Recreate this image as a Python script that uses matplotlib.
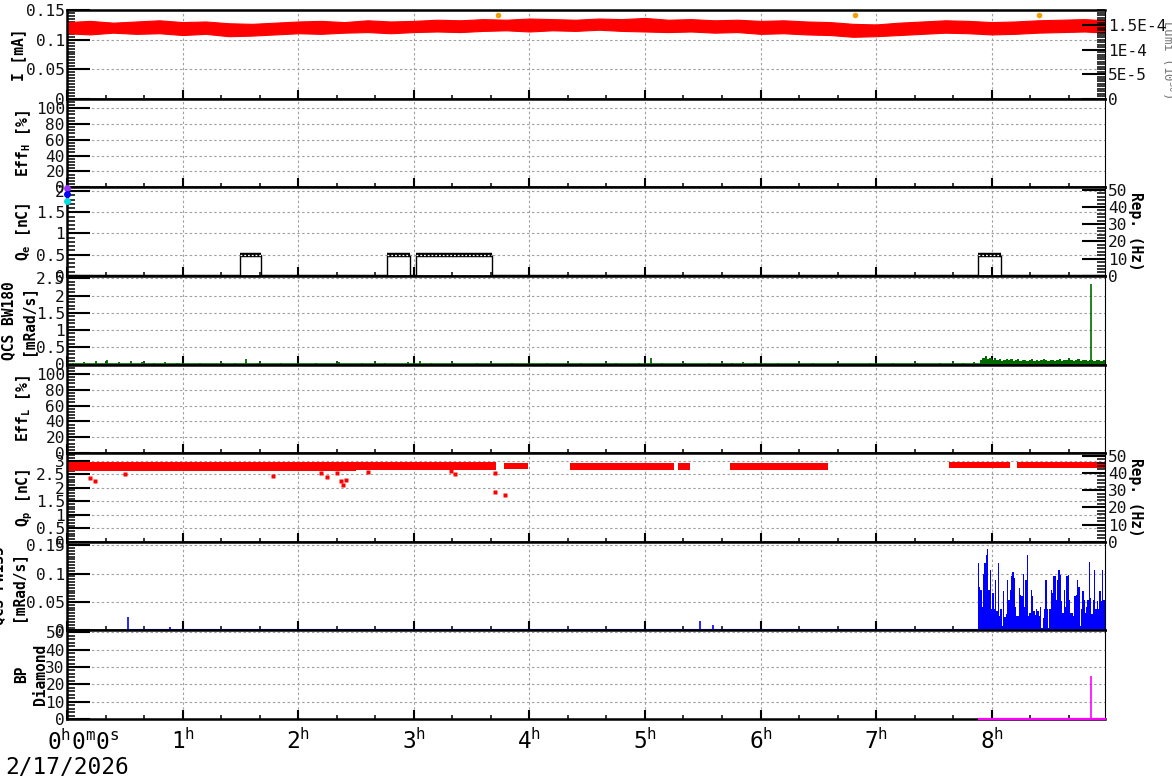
import numpy as np
import matplotlib.pyplot as plt
from matplotlib.ticker import MultipleLocator, AutoMinorLocator, FixedLocator, FormatStrFormatter

plt.rcParams['font.family'] = 'DejaVu Sans Mono'
plt.rcParams['mathtext.fontset'] = 'custom'
plt.rcParams['mathtext.rm'] = 'DejaVu Sans Mono'
plt.rcParams['mathtext.it'] = 'DejaVu Sans Mono'
plt.rcParams['mathtext.bf'] = 'DejaVu Sans Mono:bold'

# ---- data (time in hours since 0h0m0s) ----
xmax = 8.98
hours = [0, 1, 2, 3, 4, 5, 6, 7, 8]
date_label = "2/17/2026"

# beam current I [mA], envelope sampled every 0.2 h
i_t0, i_dt = 0.0, 0.2
i_upper = [0.130, 0.132, 0.129, 0.131, 0.133, 0.130, 0.131, 0.128, 0.127, 0.129,
           0.131, 0.132, 0.130, 0.133, 0.131, 0.132, 0.134, 0.133, 0.135, 0.134,
           0.136, 0.135, 0.134, 0.136, 0.135, 0.137, 0.134, 0.135, 0.133, 0.134,
           0.132, 0.133, 0.131, 0.130, 0.127, 0.126, 0.129, 0.131, 0.133, 0.132,
           0.130, 0.131, 0.133, 0.134, 0.135, 0.133]
i_lower = [0.111, 0.109, 0.112, 0.110, 0.111, 0.108, 0.110, 0.106, 0.107, 0.109,
           0.111, 0.110, 0.112, 0.113, 0.111, 0.113, 0.114, 0.113, 0.115, 0.116,
           0.114, 0.116, 0.115, 0.117, 0.115, 0.114, 0.113, 0.114, 0.112, 0.113,
           0.110, 0.111, 0.109, 0.108, 0.105, 0.106, 0.108, 0.110, 0.112, 0.111,
           0.109, 0.110, 0.112, 0.113, 0.114, 0.112]
lumi_t = [3.73, 6.82, 8.41]
lumi_v = [1.71e-4, 1.71e-4, 1.71e-4]

# Q_e [nC]
qe_box_start = [1.50, 2.77, 3.02, 7.88]
qe_box_end = [1.68, 2.97, 3.68, 8.08]
qe_level = 0.5
qe_marker_v = [2.07, 1.92, 1.76]
qe_marker_c = ['#9933ff', '#0000ff', '#00e0e0']

# QCS BW180 [mRad/s]
bw_t0, bw_dt = 0.0, 0.1
bw_early = [0.05, 0.08, 0.10, 0.12, 0.06, 0.09, 0.07, 0.04, 0.06, 0.03,
            0.02, 0.04, 0.02, 0.05, 0.03, 0.16, 0.04, 0.02, 0.04, 0.02,
            0.02, 0.05, 0.02, 0.06, 0.02, 0.04, 0.02, 0.05, 0.02, 0.06,
            0.10, 0.04, 0.02, 0.05, 0.02, 0.04, 0.02, 0.02, 0.05, 0.02,
            0.02, 0.04, 0.02, 0.02, 0.04, 0.02, 0.02, 0.05, 0.02, 0.04,
            0.18, 0.04, 0.02, 0.05, 0.02, 0.04, 0.02, 0.05, 0.07, 0.04,
            0.02, 0.04, 0.02, 0.02, 0.05, 0.02, 0.04, 0.02, 0.02, 0.04,
            0.02, 0.05, 0.02, 0.04, 0.02, 0.05, 0.02, 0.04, 0.07]
bw_t1, bw_dt1 = 7.9, 0.02
bw_late = [0.12, 0.18, 0.25, 0.15, 0.20, 0.14, 0.18, 0.12, 0.16, 0.10, 0.14, 0.17,
           0.12, 0.15, 0.10, 0.13, 0.16, 0.11, 0.14, 0.12, 0.09, 0.13, 0.15, 0.11,
           0.14, 0.10, 0.12, 0.16, 0.13, 0.11, 0.14, 0.12, 0.10, 0.13, 0.15, 0.11,
           0.12, 0.14, 0.20, 0.12, 0.10, 0.13, 0.15, 0.11, 0.12, 0.14, 0.10, 0.13,
           0.12, 0.11, 0.14, 0.12, 0.10, 0.13, 0.12]
bw_spike_t = [8.86]
bw_spike_v = [2.34]

# Q_p [nC] : continuous stretches (start, end, low, high) + stray points
qp_start = [0.00, 2.50, 3.78, 4.35, 5.29, 5.74, 7.63, 8.22]
qp_end = [2.50, 3.71, 3.99, 5.25, 5.39, 6.58, 8.16, 9.00]
qp_low = [2.62, 2.66, 2.68, 2.64, 2.64, 2.64, 2.72, 2.74]
qp_high = [2.95, 2.96, 2.92, 2.90, 2.90, 2.90, 2.96, 2.96]
qp_out_t = [0.20, 0.24, 0.50, 1.78, 2.20, 2.25, 2.34, 2.37, 2.39, 2.41, 2.60,
            3.32, 3.36, 3.70, 3.70, 3.79]
qp_out_v = [2.35, 2.23, 2.50, 2.45, 2.55, 2.40, 2.55, 2.25, 2.09, 2.30, 2.57,
            2.60, 2.50, 2.55, 1.84, 1.73]

# QCS FW135 [mRad/s]
fw_early_t = [0.53, 0.89, 1.09, 5.48, 5.59]
fw_early_v = [0.024, 0.006, 0.002, 0.016, 0.010]
fw_t0, fw_t1 = 7.88, 9.0
fw_vals = [0.118, 0.077, 0.071, 0.042, 0.100, 0.118, 0.132, 0.144, 0.071, 0.106,
           0.037, 0.066, 0.037, 0.089, 0.034, 0.118, 0.025, 0.037, 0.008, 0.069,
           0.024, 0.028, 0.089, 0.054, 0.071, 0.095, 0.103, 0.092, 0.042, 0.025,
           0.026, 0.074, 0.063, 0.060, 0.100, 0.042, 0.089, 0.132, 0.025, 0.030,
           0.071, 0.060, 0.034, 0.027, 0.037, 0.034, 0.025, 0.042, 0.005, 0.022,
           0.037, 0.089, 0.037, 0.005, 0.037, 0.071, 0.066, 0.095, 0.095, 0.054,
           0.089, 0.106, 0.098, 0.051, 0.031, 0.071, 0.042, 0.095, 0.098, 0.054,
           0.031, 0.031, 0.025, 0.060, 0.063, 0.089, 0.077, 0.008, 0.037, 0.069,
           0.054, 0.030, 0.042, 0.054, 0.121, 0.057, 0.028, 0.054, 0.106, 0.037,
           0.051, 0.037, 0.069, 0.051, 0.106, 0.054, 0.039, 0.057]

# BP Diamond
bp_start = 7.89
bp_spike_t = [8.86]
bp_spike_v = [24.7]

# ---- figure ----
W, H = 1172, 782
fig, axes = plt.subplots(8, 1, sharex=True, figsize=(W / 100, H / 100), dpi=100)
fig.subplots_adjust(left=67 / W, right=1105 / W, top=1 - 10 / H, bottom=1 - 719 / H, hspace=0)

TICK_FS = 11.6
LAB_FS = 10.5
GRID = dict(color='#a0a0a0', ls=(0, (2.2, 2.2)), lw=0.8)


def style(ax, ymax, major, nminor, label, lx):
    ax.set_xlim(0, xmax)
    ax.set_ylim(0, ymax)
    ax.set_axisbelow(True)
    ax.yaxis.set_major_locator(MultipleLocator(major))
    ax.yaxis.set_minor_locator(AutoMinorLocator(nminor))
    ax.yaxis.set_major_formatter(FormatStrFormatter('%g'))
    ax.xaxis.set_major_locator(MultipleLocator(1))
    ax.xaxis.set_minor_locator(MultipleLocator(1 / 3))
    ax.grid(True, which='major', **GRID)
    ax.tick_params(axis='y', which='major', direction='in', length=16.5, width=1.5,
                   labelsize=TICK_FS, pad=1.5, right=False, labelcolor='#111111')
    ax.tick_params(axis='y', which='minor', direction='in', length=6, width=1.1, right=False)
    ax.tick_params(axis='x', which='major', direction='in', length=6.5, width=1.5, top=False)
    ax.tick_params(axis='x', which='minor', direction='in', length=3, width=1.1, top=False)
    for s in ('left', 'bottom', 'top'):
        ax.spines[s].set_linewidth(1.8)
    ax.spines['right'].set_linewidth(0.8)
    ax.set_ylabel(label, fontsize=LAB_FS, fontweight='bold', va='center', linespacing=1.35)
    ax.yaxis.set_label_coords(lx, 0.5)


def right_axis(ax, ymax, ticks, labels, minor, title=None):
    r = ax.twinx()
    r.set_ylim(0, ymax)
    r.yaxis.set_major_locator(FixedLocator(ticks))
    r.set_yticklabels(labels)
    r.yaxis.set_minor_locator(MultipleLocator(minor))
    r.tick_params(which='major', direction='in', length=16.5, width=1.5, labelsize=TICK_FS,
                  pad=2, labelcolor='#111111')
    r.tick_params(which='minor', direction='in', length=6, width=1.1)
    for s in r.spines.values():
        s.set_visible(False)
    if title:
        r.set_ylabel(title, rotation=270, fontsize=LAB_FS, fontweight='bold', va='center')
        r.yaxis.set_label_coords(1.029, 0.5)
    return r


ax_i, ax_effh, ax_qe, ax_bw, ax_effl, ax_qp, ax_fw, ax_bp = axes

# I
style(ax_i, 0.1505, 0.05, 10, 'I [mA]', -0.0467)
t_i = i_t0 + i_dt * np.arange(len(i_upper))
ax_i.fill_between(t_i, i_lower, i_upper, color='red', lw=0.8, edgecolor='red')
r_i = right_axis(ax_i, 1.81e-4, [0, 5e-5, 1e-4, 1.5e-4], ['0', '5E-5', '1E-4', '1.5E-4'], 5e-6)
r_i.plot(lumi_t, lumi_v, 'o', color='#f0a000', ms=4, mec='none')
ax_i.text(1.0605, 0.45, 'Lumi (10$^{30}$)', transform=ax_i.transAxes, rotation=270,
          ha='center', va='center', fontsize=9, color='#777777')

# Eff_H
style(ax_effh, 112, 20, 5, r'Eff$_\mathbf{H}$ [%]', -0.0414)

# Q_e
style(ax_qe, 2.09, 0.5, 5, r'Q$_\mathbf{e}$ [nC]', -0.0419)
right_axis(ax_qe, 51.5, [0, 10, 20, 30, 40, 50], ['0', '10', '20', '30', '40', '50'], 2, 'Rep. (Hz)')
edges = [0] + [v for pair in zip(qe_box_start, qe_box_end) for v in pair] + [xmax]
for a, b in zip(edges[0::2], edges[1::2]):
    ax_qe.plot([a, b], [0, 0], color='black', lw=2.5, solid_capstyle='butt', clip_on=False, zorder=4)
for s, e in zip(qe_box_start, qe_box_end):
    ax_qe.plot([s, s, e, e], [0, qe_level, qe_level, 0], color='black', lw=1)
    ax_qe.plot([s, e], [qe_level, qe_level], color='black', lw=3.2, solid_capstyle='butt')
    ax_qe.plot([s, e], [qe_level, qe_level], color='white', lw=0.9, ls=(0, (1.5, 1.5)))
for v, c in zip(qe_marker_v, qe_marker_c):
    ax_qe.plot([0], [v], 'o', color=c, ms=5, mec='none', clip_on=False, zorder=6)

# QCS BW180
style(ax_bw, 2.57, 0.5, 5, 'QCS BW180\n[mRad/s]', -0.0472)
green = '#006a00'
t_bw = bw_t0 + bw_dt * np.arange(len(bw_early))
ax_bw.plot([0, bw_t1], [0.008, 0.008], color=green, lw=1.2)
ax_bw.vlines(t_bw + 0.05, 0, bw_early, color=green, lw=1.3)
e_late = bw_t1 + bw_dt1 * np.arange(len(bw_late) + 1)
ax_bw.stairs(bw_late, e_late, fill=True, color=green)
ax_bw.vlines(bw_spike_t, 0, bw_spike_v, color=green, lw=1.2)

# Eff_L
style(ax_effl, 112, 20, 5, r'Eff$_\mathbf{L}$ [%]', -0.0414)

# Q_p
style(ax_qp, 3.28, 0.5, 5, r'Q$_\mathbf{p}$ [nC]', -0.0405)
right_axis(ax_qp, 51.5, [0, 10, 20, 30, 40, 50], ['0', '10', '20', '30', '40', '50'], 2, 'Rep. (Hz)')
for s, e, lo, hi in zip(qp_start, qp_end, qp_low, qp_high):
    ax_qp.fill_between([s, e], [lo, lo], [hi, hi], color='red', lw=0)
ax_qp.plot(qp_out_t, qp_out_v, 's', color='red', ms=2.6, mec='none')

# QCS FW135
style(ax_fw, 0.156, 0.05, 10, 'QCS FW135\n[mRad/s]', -0.0568)
ax_fw.plot([fw_early_t[0], xmax], [0, 0], color='blue', lw=1.5, clip_on=False, zorder=4)
ax_fw.vlines(fw_early_t, 0, fw_early_v, color='blue', lw=1.2)
e_fw = np.linspace(fw_t0, fw_t1, len(fw_vals) + 1)
ax_fw.stairs(fw_vals, e_fw, fill=True, color='blue')

# BP Diamond
style(ax_bp, 51.1, 10, 5, 'BP\nDiamond', -0.0347)
ax_bp.plot([bp_start, xmax], [0, 0], color='#ff00ff', lw=1.6, clip_on=False, zorder=4)
ax_bp.vlines(bp_spike_t, 0, bp_spike_v, color='#ff00ff', lw=1.2)

# time axis labels
ax_bp.set_xticks(hours)
ax_bp.set_xticklabels([''] + [r'$\mathrm{%d^{h}}$' % h for h in hours[1:]])
ax_bp.tick_params(axis='x', which='major', labelsize=16.4, pad=7)
ax_bp.annotate(r'$\mathrm{0^{h}0^{m}0^{s}}$', xy=(0, 0), xycoords='axes fraction',
               xytext=(-20, -10), textcoords='offset pixels', ha='left', va='top', fontsize=16.4)
fig.text(5 / W, 1 - 768 / H, date_label, ha='left', va='center', fontsize=16.4)

fig.savefig('out.png', dpi=100)
